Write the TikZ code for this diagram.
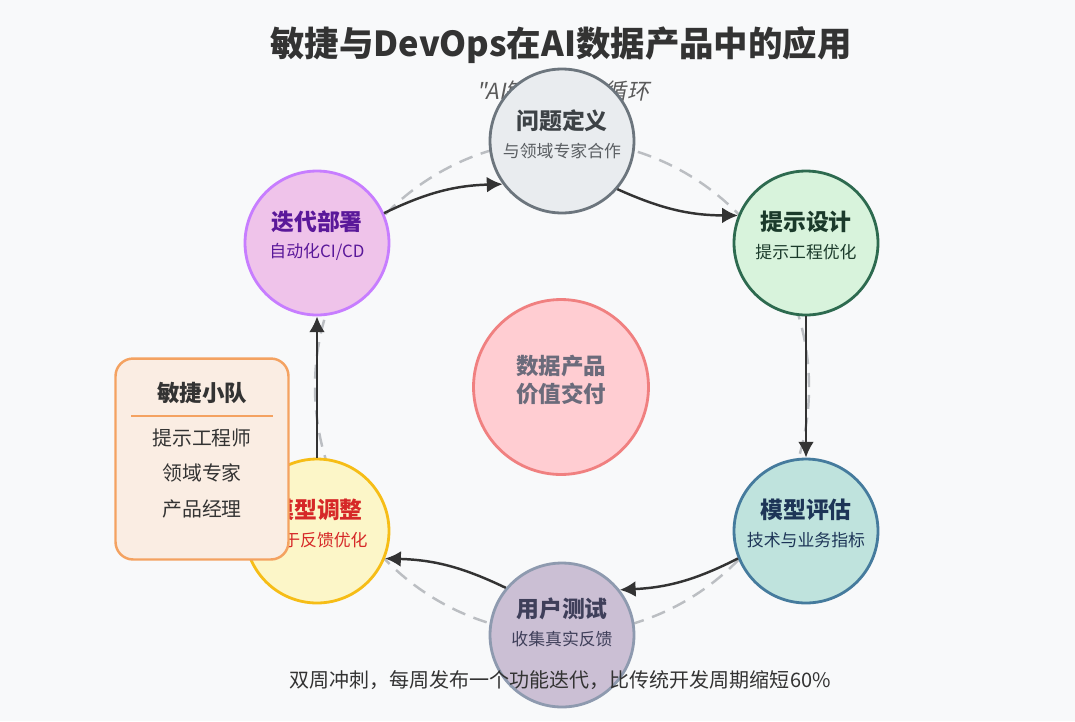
\documentclass[tikz,border=0pt]{standalone}
\usepackage{fontspec}
\setmainfont{Noto Sans CJK SC}
\newfontfamily\slantcjk[FakeSlant=0.2]{Noto Sans CJK SC}
\usepackage{tikz}
\usepackage{xcolor}
\usetikzlibrary{arrows.meta,positioning}
\definecolor{bgcol}{HTML}{F8F9FA}
\definecolor{titlecol}{HTML}{333333}
\definecolor{subcol}{HTML}{5A5A5A}
\definecolor{ringcol}{HTML}{BBBEC2}
\definecolor{arrowcol}{HTML}{333333}
\definecolor{probfill}{HTML}{E9ECEF}
\definecolor{probdraw}{HTML}{6C757D}
\definecolor{probtext}{HTML}{3D4246}
\definecolor{designfill}{HTML}{D8F3DC}
\definecolor{designdraw}{HTML}{2D6A4F}
\definecolor{designtext}{HTML}{1B3A2B}
\definecolor{evalfill}{HTML}{BFE3DD}
\definecolor{evaldraw}{HTML}{457B9D}
\definecolor{evaltext}{HTML}{1D3557}
\definecolor{userfill}{HTML}{CBBFD4}
\definecolor{userdraw}{HTML}{8E9AAF}
\definecolor{usertext}{HTML}{3F3F5A}
\definecolor{tunefill}{HTML}{FCF6C8}
\definecolor{tunedraw}{HTML}{F6BD16}
\definecolor{tunetext}{HTML}{D62828}
\definecolor{deployfill}{HTML}{EFC3EA}
\definecolor{deploydraw}{HTML}{C77DFF}
\definecolor{deploytext}{HTML}{5A189A}
\definecolor{corefill}{HTML}{FFCDD2}
\definecolor{coredraw}{HTML}{F08080}
\definecolor{coretext}{HTML}{6B6B7B}
\definecolor{teamfill}{HTML}{FAEDE3}
\definecolor{teamdraw}{HTML}{F4A261}

\begin{document}
\begin{tikzpicture}[x=0.02cm, y=0.02cm,
    stage/.style={circle, draw, line width=1.6pt, minimum size=2.88cm, inner sep=0pt},
    stagetitle/.style={font=\bfseries\fontsize{13}{15}\selectfont},
    stagenote/.style={font=\fontsize{9.6}{12}\selectfont},
    flow/.style={-{Latex[length=9pt,width=9pt]}, line width=1.4pt, draw=arrowcol}
  ]
  \fill[bgcol] (0,0) rectangle (1075,-721);
  \useasboundingbox (0,0) rectangle (1075,-721);

  % cycle ring and headings
  \draw[ringcol, line width=1.4pt, dash pattern=on 8pt off 5pt] (562,-387) circle (247);
  \node[font=\bfseries\fontsize{19.6}{23}\selectfont, text=titlecol] (title) at (561,-45) {敏捷与DevOps在AI数据产品中的应用};
  \node[font=\slantcjk\fontsize{12.6}{15}\selectfont, text=subcol] (subtitle) at (563,-91) {"AI敏捷迭代"循环};

  % stages
  \node[stage, fill=probfill, draw=probdraw] (prob) at (562,-141) {};
  \node[stage, fill=designfill, draw=designdraw] (design) at (806,-243) {};
  \node[stage, fill=evalfill, draw=evaldraw] (eval) at (806,-531) {};
  \node[stage, fill=userfill, draw=userdraw] (user) at (562,-635) {};
  \node[stage, fill=tunefill, draw=tunedraw] (tune) at (317,-531) {};
  \node[stage, fill=deployfill, draw=deploydraw] (deploy) at (317,-243) {};
  \node[circle, draw=coredraw, fill=corefill, line width=1.6pt, minimum size=3.5cm, inner sep=0pt] (core) at (561,-387) {};

  \node[stagetitle, text=probtext] (probT) at ([yshift=0.4cm]prob.center) {问题定义};
  \node[stagenote, text=probtext!85] (probN) at ([yshift=-0.2cm]prob.center) {与领域专家合作};
  \node[stagetitle, text=designtext] (designT) at ([yshift=0.42cm]design.center) {提示设计};
  \node[stagenote, text=designtext] (designN) at ([yshift=-0.18cm]design.center) {提示工程优化};
  \node[stagetitle, text=evaltext] (evalT) at ([yshift=0.42cm]eval.center) {模型评估};
  \node[stagenote, text=evaltext] (evalN) at ([yshift=-0.18cm]eval.center) {技术与业务指标};
  \node[stagetitle, text=usertext] (userT) at ([yshift=0.52cm]user.center) {用户测试};
  \node[stagenote, text=usertext] (userN) at ([yshift=-0.08cm]user.center) {收集真实反馈};
  \node[stagetitle, text=tunetext] (tuneT) at ([yshift=0.42cm]tune.center) {模型调整};
  \node[stagenote, text=tunetext] (tuneN) at ([yshift=-0.18cm]tune.center) {基于反馈优化};
  \node[stagetitle, text=deploytext] (deployT) at ([yshift=0.42cm]deploy.center) {迭代部署};
  \node[stagenote, text=deploytext] (deployN) at ([yshift=-0.18cm]deploy.center) {自动化CI/CD};
  \node[font=\bfseries\fontsize{12.8}{16}\selectfont, text=coretext, align=center] (coreT) at ([yshift=0.14cm]core.center) {数据产品\\价值交付};

  % flow between stages
  \draw[flow] (deploy.24) to[bend left=12] (prob.216);
  \draw[flow] (prob.319) to[bend right=12] (design.158);
  \draw[flow] (design.south) -- (eval.north);
  \draw[flow] (eval.202) to[bend left=12] (user.38);
  \draw[flow] (user.140) to[bend right=12] (tune.338);
  \draw[flow] (tune.north) -- (deploy.south);

  % team box
  \node[draw=teamdraw, fill=teamfill, line width=1.4pt, rounded corners=10pt, minimum width=3.46cm, minimum height=4.02cm] (team) at (202,-459) {};
  \node[font=\bfseries\fontsize{12.8}{15}\selectfont, text=titlecol] (teamT) at (202,-393) {敏捷小队};
  \coordinate (ruleL) at (131,-416);
  \coordinate (ruleR) at (273,-416);
  \draw[teamdraw, line width=0.8pt] (ruleL) -- (ruleR);
  \node[font=\fontsize{11.3}{14}\selectfont, text=titlecol] (role1) at (202,-438) {提示工程师};
  \node[font=\fontsize{11.3}{14}\selectfont, text=titlecol] (role2) at (202,-473) {领域专家};
  \node[font=\fontsize{11.3}{14}\selectfont, text=titlecol] (role3) at (202,-509) {产品经理};

  \node[font=\fontsize{11.4}{14}\selectfont, text=titlecol] (note) at (560,-680) {双周冲刺，每周发布一个功能迭代，比传统开发周期缩短60\%};
\end{tikzpicture}
\end{document}
